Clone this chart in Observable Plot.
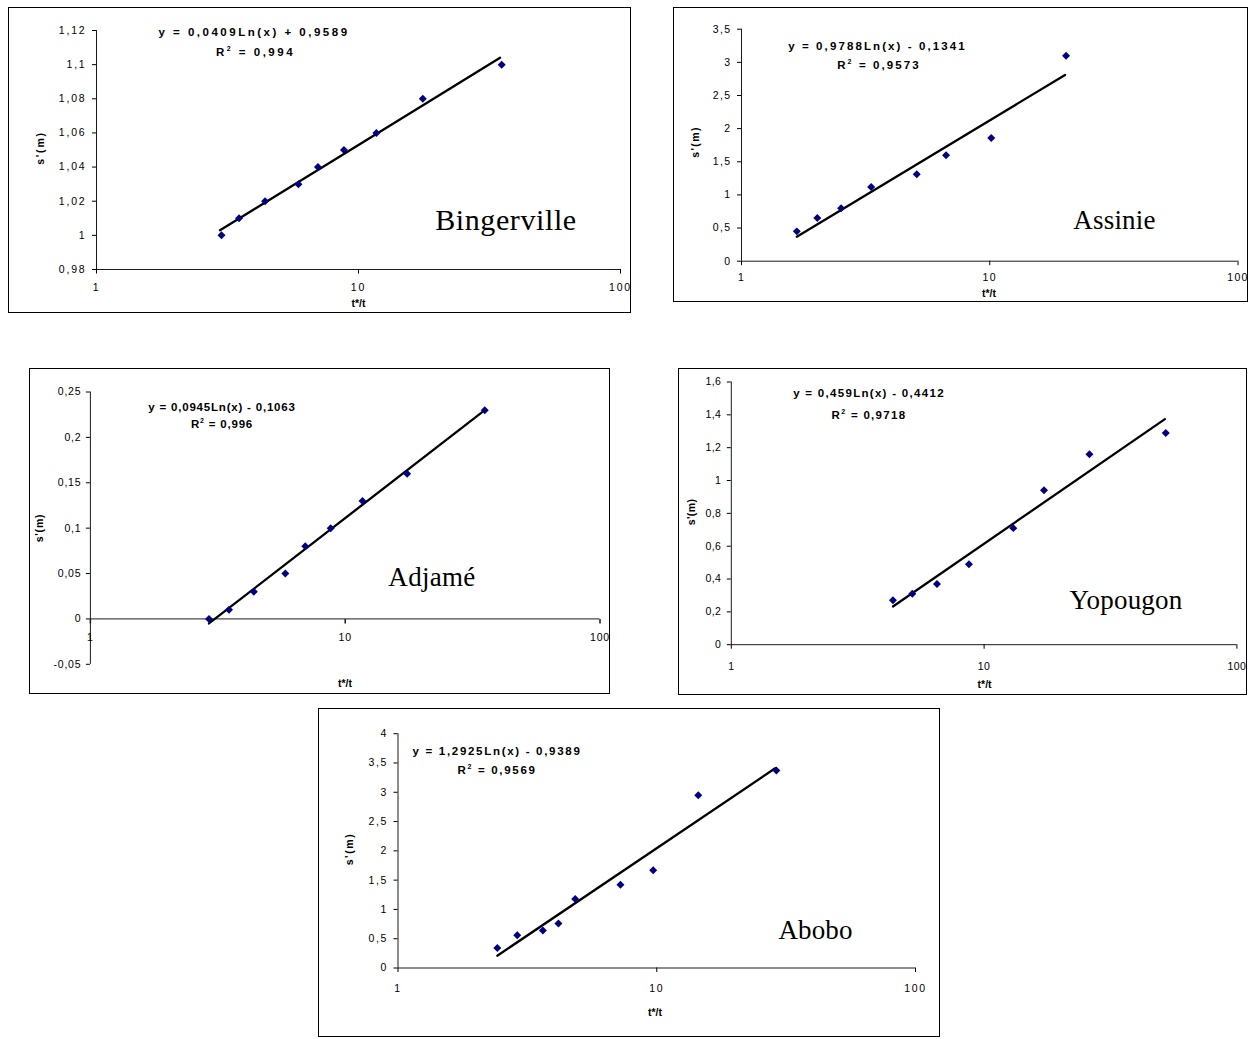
<!DOCTYPE html>
<html><head><meta charset="utf-8">
<script src="https://cdn.jsdelivr.net/npm/d3@7"></script>
<script src="https://cdn.jsdelivr.net/npm/@observablehq/plot@0.6"></script>
<style>
body{margin:0;background:#fff;}
#page{position:relative;width:1254px;height:1039px;overflow:hidden;background:#fff;font-family:"Liberation Sans",Arial,sans-serif;color:#000;}
.box{position:absolute;border:1.5px solid #000;box-sizing:border-box;pointer-events:none;}
.svgwrap{position:absolute;}
.lbl{position:absolute;transform:translate(-50%,-50%);white-space:nowrap;line-height:1;}
.eq{font-weight:bold;font-size:11.5px;}
.eq sup{font-size:7px;vertical-align:5px;line-height:0;}
.ax{font-weight:bold;font-size:10.5px;}
.rot{transform:translate(-50%,-50%) rotate(-90deg);}
.place{font-family:"Liberation Serif","Times New Roman",serif;font-size:27px;}
</style>
</head><body><div id="page"></div>
<script>
// ---- data ----
const xTicks = [1, 10, 100];

const bingervilleT = [3.0, 3.5, 4.4, 5.9, 7.0, 8.8, 11.7, 17.6, 35.2];
const bingervilleS = [1.00, 1.01, 1.02, 1.03, 1.04, 1.05, 1.06, 1.08, 1.10];
const bingervilleTrendT = [2.96, 34.7];
const bingervilleTrendS = [1.003, 1.104];
const bingervilleYTicks = [0.98, 1, 1.02, 1.04, 1.06, 1.08, 1.1, 1.12];

const assinieT = [1.67, 2.02, 2.52, 3.33, 5.08, 6.67, 10.14, 20.3];
const assinieS = [0.45, 0.65, 0.80, 1.12, 1.31, 1.60, 1.86, 3.10];
const assinieTrendT = [1.67, 20.1];
const assinieTrendS = [0.37, 2.81];
const assinieYTicks = [0, 0.5, 1, 1.5, 2, 2.5, 3, 3.5];

const adjameT = [2.92, 3.5, 4.38, 5.82, 6.97, 8.77, 11.69, 17.5, 35.3];
const adjameS = [0.00, 0.01, 0.03, 0.05, 0.08, 0.10, 0.13, 0.16, 0.23];
const adjameTrendT = [2.92, 35.3];
const adjameTrendS = [-0.005, 0.23];
const adjameYTicks = [-0.05, 0, 0.05, 0.1, 0.15, 0.2, 0.25];

const yopougonT = [4.36, 5.20, 6.51, 8.71, 13.05, 17.26, 26.1, 52.3];
const yopougonS = [0.27, 0.31, 0.37, 0.49, 0.71, 0.94, 1.16, 1.29];
const yopougonTrendT = [4.36, 51.9];
const yopougonTrendS = [0.233, 1.374];
const yopougonYTicks = [0, 0.2, 0.4, 0.6, 0.8, 1, 1.2, 1.4, 1.6];

const aboboT = [2.42, 2.89, 3.63, 4.17, 4.84, 7.24, 9.69, 14.47, 29.0];
const aboboS = [0.34, 0.56, 0.64, 0.76, 1.18, 1.42, 1.67, 2.95, 3.37];
const aboboTrendT = [2.42, 28.7];
const aboboTrendS = [0.21, 3.41];
const aboboYTicks = [0, 0.5, 1, 1.5, 2, 2.5, 3, 3.5, 4];

const placeNames = ["Bingerville", "Assinie", "Adjamé", "Yopougon", "Abobo"];
const equations = ["y = 0,0409Ln(x) + 0,9589", "y = 0,9788Ln(x) - 0,1341", "y = 0,0945Ln(x) - 0,1063", "y = 0,459Ln(x) - 0,4412", "y = 1,2925Ln(x) - 0,9389"];
const r2Values = ["0,994", "0,9573", "0,996", "0,9718", "0,9569"];
const yLabel = "s'(m)";
const xLabel = "t*/t";

// ---- layout (positions only) ----
const layout = [
  {box:[8,7,631,313], frame:[96,30,620,269], yPad:6, xPad:10, ls:1.8, els:2.5,
   eqPos:[254,33], r2Pos:[255.5,53], yl:[39.5,148], xl:[358.5,303], np:[506,219.5], nfs:30, nls:0.6, bottomAxis:true},
  {box:[673,7,1248,302], frame:[741,28.7,1237.5,260.7], yPad:6, xPad:8, ls:1.4, els:2.1,
   eqPos:[877.5,46.7], r2Pos:[879,65.7], yl:[695,141.7], xl:[989,292.7], np:[1114.5,220], nfs:27, nls:0.2, bottomAxis:true},
  {box:[28.5,367.5,610,693.5], frame:[89.4,391,599,663.3], yPad:5, xPad:19, ls:0.8, els:0.8,
   eqPos:[222,407.7], r2Pos:[222,425], yl:[39,528], xl:[345,682.7], np:[432,576.5], nfs:27, nls:0.3, bottomAxis:false},
  {box:[678,367.5,1247,694.5], frame:[730.8,381,1236.4,643.7], yPad:6, xPad:13, ls:0.4, els:1.3,
   eqPos:[869,394.3], r2Pos:[869,416], yl:[690.5,511.7], xl:[984.6,684], np:[1126,600], nfs:27, nls:0.2, bottomAxis:true},
  {box:[317.5,707.5,940,1037], frame:[397,732.7,914.5,967], yPad:6, xPad:12, ls:1.6, els:1.7,
   eqPos:[497,752.3], r2Pos:[497,770.7], yl:[349,849], xl:[655,1012.3], np:[815.5,930], nfs:27, nls:0.1, bottomAxis:true}
];

const series = [
  {t:bingervilleT, s:bingervilleS, tt:bingervilleTrendT, ts:bingervilleTrendS, yt:bingervilleYTicks},
  {t:assinieT, s:assinieS, tt:assinieTrendT, ts:assinieTrendS, yt:assinieYTicks},
  {t:adjameT, s:adjameS, tt:adjameTrendT, ts:adjameTrendS, yt:adjameYTicks},
  {t:yopougonT, s:yopougonS, tt:yopougonTrendT, ts:yopougonTrendS, yt:yopougonYTicks},
  {t:aboboT, s:aboboS, tt:aboboTrendT, ts:aboboTrendS, yt:aboboYTicks}
];

const page = document.getElementById("page");
const fmtY = d => String(d).replace(".", ",");
const tickDown = {draw(ctx){ ctx.moveTo(0,0); ctx.lineTo(0,4.5); }};
const axisColor = "#1a1a1a";

function addLabel(html, pos, cls, extraStyle) {
  const el = document.createElement("div");
  el.className = "lbl " + cls;
  el.innerHTML = html;
  el.style.left = pos[0] + "px";
  el.style.top = pos[1] + "px";
  if (extraStyle) Object.assign(el.style, extraStyle);
  page.appendChild(el);
}

series.forEach((d, k) => {
  const L = layout[k];
  const [bx0, by0, bx1, by1] = L.box;
  const [fx0, fy0, fx1, fy1] = L.frame;
  const W = bx1 - bx0, H = by1 - by0;
  const pts = d.t.map((t, i) => ({t, s: d.s[i]}));
  const trend = d.tt.map((t, i) => ({t, s: d.ts[i]}));
  const base = L.bottomAxis ? d.yt[0] : 0;
  const marks = [
    Plot.ruleX([1], {stroke: axisColor}),
    Plot.ruleY([base], {stroke: axisColor}),
    Plot.axisY({ticks: d.yt, tickFormat: fmtY, tickSize: 4, tickPadding: L.yPad, label: null})
  ];
  if (L.bottomAxis) {
    marks.push(Plot.axisX({ticks: xTicks, tickFormat: v => String(v), tickSize: 4.5, tickPadding: L.xPad, label: null}));
  } else {
    marks.push(Plot.dot(xTicks, {x: v => v, y: () => base, symbol: tickDown, r: 4, stroke: axisColor, fill: "none"}));
    marks.push(Plot.text(xTicks, {x: v => v, y: () => base, dy: L.xPad, text: v => String(v)}));
  }
  marks.push(Plot.line(trend, {x: "t", y: "s", stroke: "#000", strokeWidth: 2.3}));
  marks.push(Plot.dot(pts, {x: "t", y: "s", symbol: "diamond2", r: 3.6, fill: "#000080", stroke: "none"}));

  const svg = Plot.plot({
    width: W, height: H,
    marginLeft: fx0 - bx0, marginRight: bx1 - fx1,
    marginTop: fy0 - by0, marginBottom: by1 - fy1,
    x: {type: "log", domain: [1, 100], axis: null},
    y: {domain: [d.yt[0], d.yt[d.yt.length - 1]], axis: null},
    style: {fontFamily: '"Liberation Sans", Arial, sans-serif', fontSize: "10.5px", letterSpacing: L.ls + "px", overflow: "visible", background: "transparent", color: "#000"},
    marks
  });
  const wrap = document.createElement("div");
  wrap.className = "svgwrap";
  Object.assign(wrap.style, {left: bx0 + "px", top: by0 + "px", width: W + "px", height: H + "px"});
  wrap.appendChild(svg);
  page.appendChild(wrap);

  const box = document.createElement("div");
  box.className = "box";
  Object.assign(box.style, {left: bx0 + "px", top: by0 + "px", width: W + "px", height: H + "px"});
  page.appendChild(box);

  addLabel(equations[k], L.eqPos, "eq", {letterSpacing: L.els + "px"});
  addLabel("R<sup>2</sup> = " + r2Values[k], L.r2Pos, "eq", {letterSpacing: L.els + "px"});
  addLabel(yLabel, L.yl, "ax rot", {letterSpacing: L.ls + "px"});
  addLabel(xLabel, L.xl, "ax", {});
  addLabel(placeNames[k], L.np, "place", {letterSpacing: L.nls + "px", fontSize: L.nfs + "px"});
});
</script>
</body></html>
